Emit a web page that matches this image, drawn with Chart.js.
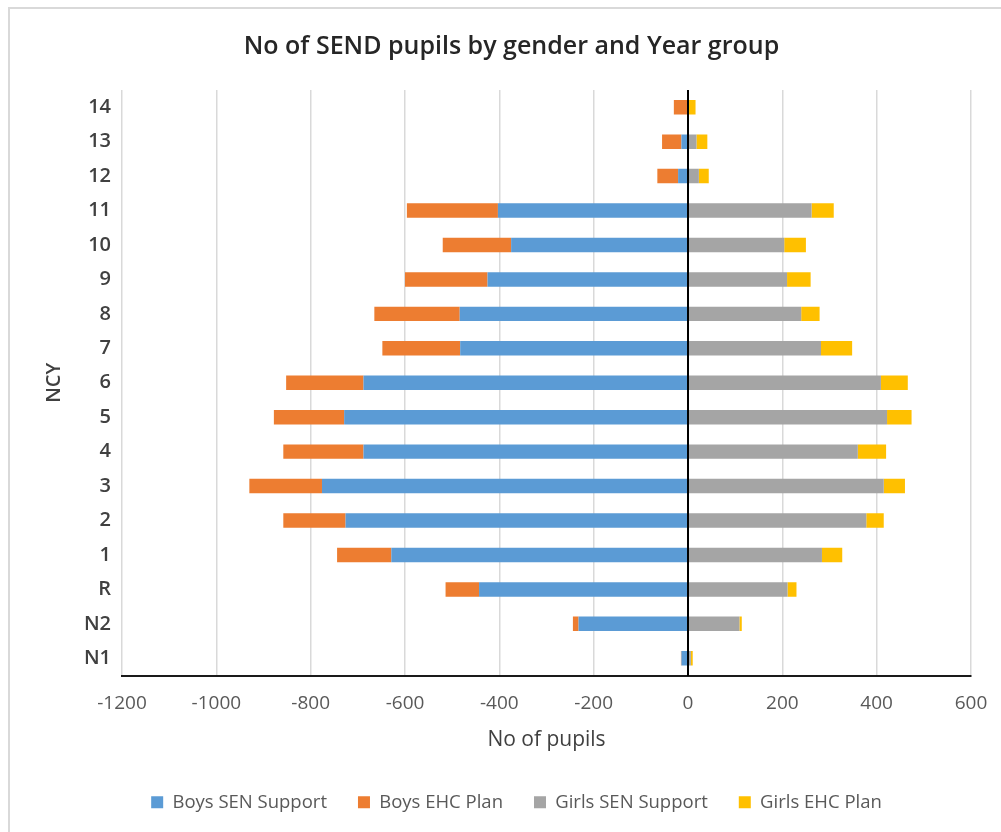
<!DOCTYPE html>
<html>
<head>
<meta charset="utf-8">
<title>No of SEND pupils by gender and Year group</title>
<script src="https://cdn.jsdelivr.net/npm/chart.js@4.4.1/dist/chart.umd.min.js"></script>
<style>
  html, body { margin: 0; padding: 0; background: #ffffff; overflow: hidden; }
  canvas { display: block; }
</style>
</head>
<body>
<canvas id="chart" width="1001" height="832"></canvas>
<script>
// National curriculum year groups, top to bottom
const yearGroups = ['14', '13', '12', '11', '10', '9', '8', '7', '6', '5', '4', '3', '2', '1', 'R', 'N2', 'N1'];

// Pupil counts per year group
const boysSenSupport  = [0, 14, 21, 403, 375, 425, 484, 483, 688, 729, 688, 776, 726, 629, 443, 232, 14];
const boysEhcPlan     = [30, 41, 44, 193, 145, 175, 181, 165, 164, 149, 170, 154, 132, 115, 71, 12, 1];
const girlsSenSupport = [0, 18, 23, 262, 204, 210, 240, 282, 409, 422, 360, 415, 378, 284, 211, 109, 6];
const girlsEhcPlan    = [16, 23, 21, 47, 46, 50, 39, 66, 57, 52, 60, 45, 37, 43, 19, 5, 4];

// Value-axis ticks (boys plotted to the left of zero)
const xTickValues = [-1200, -1000, -800, -600, -400, -200, 0, 200, 400, 600];
const xTickLabels = ['-1200', '-1000', '-800', '-600', '-400', '-200', '0', '200', '400', '600'];

const FONT = "'Open Sans', 'Liberation Sans', sans-serif";
Chart.defaults.font.family = FONT;

const toLeft = arr => arr.map(v => -v);

// Light frame around the chart
const chartFrame = {
  id: 'chartFrame',
  beforeDraw(chart) {
    const ctx = chart.ctx;
    ctx.save();
    ctx.strokeStyle = '#d9d9d9';
    ctx.lineWidth = 2;
    ctx.beginPath();
    ctx.moveTo(9, chart.height);
    ctx.lineTo(9, 8);
    ctx.lineTo(chart.width, 8);
    ctx.stroke();
    ctx.restore();
  }
};

// Centre the title and the legend row over the plot rather than the canvas
const blockNudge = {
  id: 'blockNudge',
  afterLayout(chart) {
    const lg = chart.legend;
    if (lg) { lg.left += 26; lg.right += 26; }
    const tb = chart.titleBlock;
    if (tb) { tb.left += 21; tb.right += 21; }
  }
};

const barStyle = { barPercentage: 0.42, categoryPercentage: 1.0, borderWidth: 0, xAxisID: 'x', yAxisID: 'y' };

new Chart(document.getElementById('chart'), {
  type: 'bar',
  data: {
    labels: yearGroups,
    datasets: [
      Object.assign({ label: 'Boys SEN Support', data: toLeft(boysSenSupport), backgroundColor: '#5B9BD5' }, barStyle),
      Object.assign({ label: 'Boys EHC Plan', data: toLeft(boysEhcPlan), backgroundColor: '#ED7D31' }, barStyle),
      Object.assign({ label: 'Girls SEN Support', data: girlsSenSupport, backgroundColor: '#A5A5A5' }, barStyle),
      Object.assign({ label: 'Girls EHC Plan', data: girlsEhcPlan, backgroundColor: '#FFC000' }, barStyle)
    ]
  },
  options: {
    indexAxis: 'y',
    responsive: false,
    animation: false,
    devicePixelRatio: 1,
    layout: { padding: { top: 0, left: 10, right: 30, bottom: 10.5 } },
    scales: {
      x: {
        type: 'linear',
        position: 'bottom',
        stacked: true,
        min: -1200,
        max: 600,
        afterBuildTicks: s => { s.ticks = xTickValues.map(v => ({ value: v })); },
        afterFit: s => { s.height = 86.5; s.paddingLeft = 0; s.paddingRight = 0; },
        grid: { color: '#d9d9d9', lineWidth: 1.5, drawTicks: false },
        border: { display: true, color: '#1a1a1a', width: 2 },
        ticks: {
          padding: 16.5,
          color: '#595959',
          font: { size: 19 },
          maxRotation: 0,
          autoSkip: false,
          callback: (value) => xTickLabels[xTickValues.indexOf(value)]
        },
        title: { display: true, text: 'No of pupils', color: '#404040', font: { size: 21 }, padding: { top: 0, bottom: 9 } }
      },
      // Zero line drawn over the bars
      x0: {
        type: 'linear',
        position: 'bottom',
        min: -1200,
        max: 600,
        afterBuildTicks: s => { s.ticks = [{ value: 0 }]; },
        ticks: { display: false },
        grid: { color: '#000000', lineWidth: 2, drawTicks: false, z: 1 },
        border: { display: false }
      },
      y: {
        type: 'category',
        stacked: true,
        afterFit: s => { s.width = 112; },
        grid: { display: false, drawTicks: false },
        border: { display: false },
        ticks: { padding: 11, color: '#404040', font: { size: 20, weight: '600' }, autoSkip: false },
        title: { display: true, text: 'NCY', color: '#404040', font: { size: 20, weight: '600' }, padding: { top: 32, bottom: 0 } }
      }
    },
    plugins: {
      title: {
        display: true,
        text: 'No of SEND pupils by gender and Year group',
        color: '#262626',
        font: { size: 25, weight: '600' },
        padding: { top: 32, bottom: 28 }
      },
      legend: {
        position: 'bottom',
        labels: { boxWidth: 12, boxHeight: 12, padding: 31, color: '#595959', font: { size: 18.5 } }
      },
      tooltip: { enabled: false }
    }
  },
  plugins: [chartFrame, blockNudge]
});
</script>
</body>
</html>
